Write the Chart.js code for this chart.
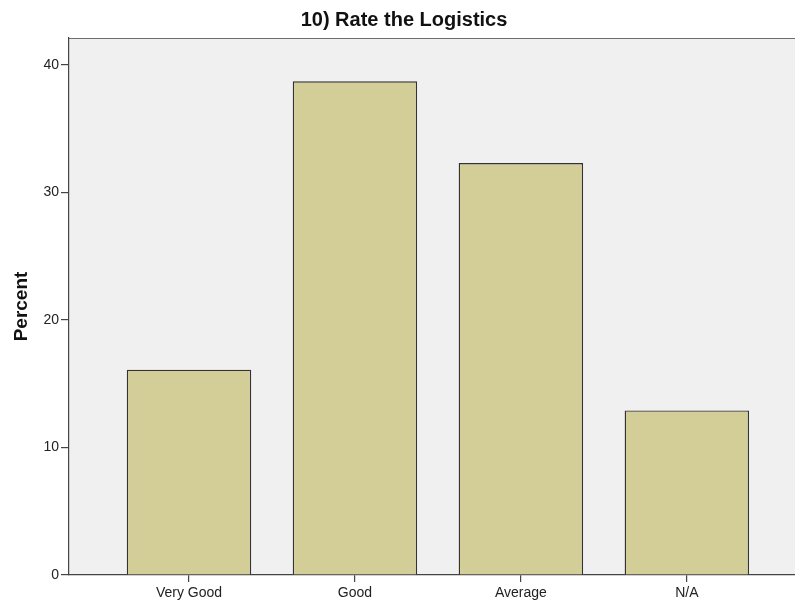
<!DOCTYPE html>
<html>
<head>
<meta charset="utf-8">
<script src="https://cdn.jsdelivr.net/npm/chart.js@4/dist/chart.umd.min.js"></script>
<style>
  html, body { margin: 0; padding: 0; background: #ffffff; overflow: hidden; }
  canvas { display: block; }
</style>
</head>
<body>
<canvas id="c" width="808" height="604"></canvas>
<script>
const categories = ["Very Good", "Good", "Average", "N/A"];
const percentValues = [16.1, 38.7, 32.3, 12.9];
const yTicks = [0, 10, 20, 30, 40];
const chartTitle = "10) Rate the Logistics";
const yAxisTitle = "Percent";

const plotBg = {
  id: 'plotBg',
  beforeDraw(chart) {
    const {ctx, chartArea: a} = chart;
    ctx.save();
    ctx.fillStyle = '#f0f0f0';
    ctx.fillRect(a.left, a.top, a.right - a.left, a.bottom - a.top);
    ctx.strokeStyle = '#6e6e6e';
    ctx.lineWidth = 1.2;
    ctx.beginPath();
    ctx.moveTo(a.left, a.top + 0.5);
    ctx.lineTo(a.right, a.top + 0.5);
    ctx.stroke();
    ctx.restore();
  }
};

new Chart(document.getElementById('c'), {
  type: 'bar',
  data: {
    datasets: [{
      data: categories.map((c, i) => ({x: i, y: percentValues[i]})),
      backgroundColor: '#d3ce97',
      borderColor: '#333333',
      borderWidth: 1.4,
      borderSkipped: 'bottom',
      barPercentage: 0.75,
      categoryPercentage: 1.0
    }]
  },
  plugins: [plotBg],
  options: {
    responsive: false,
    animation: false,
    layout: { padding: 0 },
    plugins: {
      legend: { display: false },
      tooltip: { enabled: false },
      title: {
        display: true,
        text: chartTitle,
        color: '#111',
        font: { family: 'Liberation Sans', size: 20, weight: 'bold' },
        padding: { top: 8, bottom: 6 }
      }
    },
    scales: {
      x: {
        type: 'linear',
        offset: false,
        min: -0.723,
        max: 3.73,
        afterFit(s) { s.height = 29; },
        border: { color: '#444', width: 1.2 },
        grid: { offset: false, drawOnChartArea: false, drawTicks: true, tickLength: 7, color: '#444', lineWidth: 1.2 },
        afterBuildTicks(s) { s.ticks = categories.map((c, i) => ({value: i})); },
        ticks: {
          includeBounds: false,
          stepSize: 1,
          padding: 3,
          color: '#222',
          font: { family: 'Liberation Sans', size: 14 },
          maxRotation: 0,
          autoSkip: false,
          callback: (v) => categories[v] !== undefined ? categories[v] : ''
        }
      },
      y: {
        min: 0,
        max: 42.1,
        afterFit(s) { s.width = 69; },
        afterBuildTicks(s) { s.ticks = yTicks.map(v => ({value: v})); },
        border: { color: '#444', width: 1.2 },
        grid: { drawOnChartArea: false, drawTicks: true, tickLength: 8, color: '#444', lineWidth: 1.2 },
        ticks: {
          includeBounds: false,
          padding: 2,
          color: '#222',
          font: { family: 'Liberation Sans', size: 14 }
        },
        title: {
          display: true,
          text: yAxisTitle,
          color: '#111',
          font: { family: 'Liberation Sans', size: 19, weight: 'bold' },
          padding: { top: 10, bottom: 0 }
        }
      }
    }
  }
});
</script>
</body>
</html>
